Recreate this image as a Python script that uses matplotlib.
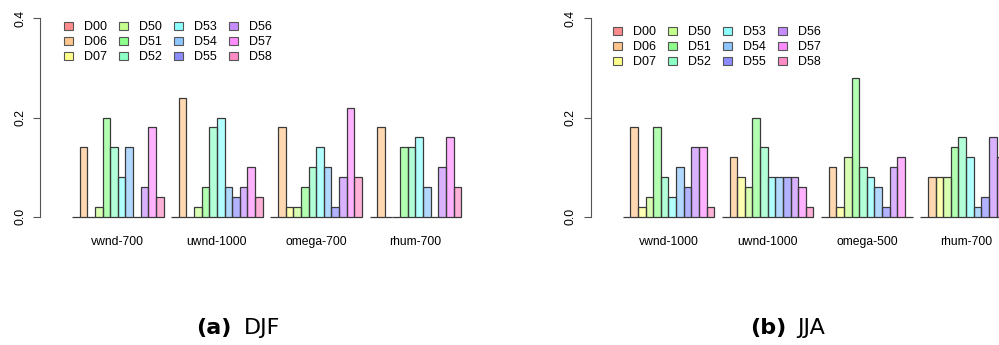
import numpy as np
import matplotlib
matplotlib.use('Agg')
import matplotlib.pyplot as plt
from matplotlib.colors import hsv_to_rgb, to_rgba
from matplotlib.patches import Patch

# predictors / downscaling methods
metodos = ['D00', 'D06', 'D07', 'D50', 'D51', 'D52', 'D53', 'D54', 'D55', 'D56', 'D57', 'D58']

vars_djf = ['vwnd-700', 'uwnd-1000', 'omega-700', 'rhum-700']
djf_vwnd700 = [0, 0.14, 0, 0.02, 0.20, 0.14, 0.08, 0.14, 0, 0.06, 0.18, 0.04]
djf_uwnd1000 = [0, 0.24, 0, 0.02, 0.06, 0.18, 0.20, 0.06, 0.04, 0.06, 0.10, 0.04]
djf_omega700 = [0, 0.18, 0.02, 0.02, 0.06, 0.10, 0.14, 0.10, 0.02, 0.08, 0.22, 0.08]
djf_rhum700 = [0, 0.18, 0, 0, 0.14, 0.14, 0.16, 0.06, 0, 0.10, 0.16, 0.06]

vars_jja = ['vwnd-1000', 'uwnd-1000', 'omega-500', 'rhum-700']
jja_vwnd1000 = [0, 0.18, 0.02, 0.04, 0.18, 0.08, 0.04, 0.10, 0.06, 0.14, 0.14, 0.02]
jja_uwnd1000 = [0, 0.12, 0.08, 0.06, 0.20, 0.14, 0.08, 0.08, 0.08, 0.08, 0.06, 0.02]
jja_omega500 = [0, 0.10, 0.02, 0.12, 0.28, 0.10, 0.08, 0.06, 0.02, 0.10, 0.12, 0]
jja_rhum700 = [0, 0.08, 0.08, 0.08, 0.14, 0.16, 0.12, 0.02, 0.04, 0.16, 0.12, 0.06]

W, H = 999, 345
n = len(metodos)
unid = 7.63  # largura de uma barra em pixels
x0 = 1 - 32 / unid  # eixo y fica 32 px antes da primeira barra

# paleta tipo rainbow(12) do R
base = [hsv_to_rgb((i / n, 1, 1)) for i in range(n)]
cor_barra = [to_rgba(c, 0.3) for c in base]
cor_leg = [to_rgba(c, 0.45) for c in base]
borda = '#3a3a3a'

plt.rcParams['font.family'] = ['Liberation Sans', 'DejaVu Sans']

fig = plt.figure(figsize=(W / 100, H / 100), dpi=100)


def painel(esq_px, grupos, nomes, leg_top_px, leg_left_px):
    larg_px = 440
    ax = fig.add_axes([esq_px / W, (H - 216.7) / H, larg_px / W, (216.7 - 18.3) / H])
    ax.set_xlim(x0, x0 + larg_px / unid)
    ax.set_ylim(0, 0.4)
    for g, vals in enumerate(grupos):
        xs = 1 + 13 * g + np.arange(n) + 0.5
        ax.bar(xs, vals, width=1, color=cor_barra, edgecolor=borda,
               linewidth=0.9, clip_on=False)
    ax.set_xticks([1 + 13 * g + n / 2 for g in range(len(nomes))])
    ax.set_xticklabels(nomes, fontsize=8.7)
    ax.tick_params(axis='x', length=0, pad=14)
    ax.set_yticks([0, 0.2, 0.4])
    ax.set_yticklabels(['0.0', '0.2', '0.4'], rotation=90, va='center', fontsize=8.7)
    ax.tick_params(axis='y', length=5, width=0.8, color='#555555', pad=5)
    for s in ['top', 'right', 'bottom']:
        ax.spines[s].set_visible(False)
    ax.spines['left'].set_bounds(0, 0.4)
    ax.spines['left'].set_color('#555555')
    ax.spines['left'].set_linewidth(0.8)

    alças = [Patch(facecolor=cor_leg[i], edgecolor='#555555', linewidth=0.8, label=metodos[i])
             for i in range(n)]
    ax.legend(handles=alças, ncol=4, loc='upper left', frameon=False,
              bbox_to_anchor=(leg_left_px / W, 1 - leg_top_px / H),
              bbox_transform=fig.transFigure, fontsize=9,
              handlelength=0.72, handleheight=0.6, handletextpad=0.9,
              columnspacing=0.95, labelspacing=0.25, borderpad=0, borderaxespad=0)
    return ax


painel(40, [djf_vwnd700, djf_uwnd1000, djf_omega700, djf_rhum700], vars_djf, 21, 64)
painel(590.7, [jja_vwnd1000, jja_uwnd1000, jja_omega500, jja_rhum700], vars_jja, 26, 612.7)

# legendas das subfiguras
yc = 1 - 328 / H
fig.text(231 / W, yc, '(a)', ha='right', va='center', fontsize=16, fontweight='bold', family='DejaVu Sans')
fig.text(244 / W, yc, 'DJF', ha='left', va='center', fontsize=16, family='DejaVu Sans')
fig.text(786 / W, yc, '(b)', ha='right', va='center', fontsize=16, fontweight='bold', family='DejaVu Sans')
fig.text(797 / W, yc, 'JJA', ha='left', va='center', fontsize=16, family='DejaVu Sans')

fig.savefig('out.png', dpi=100)
